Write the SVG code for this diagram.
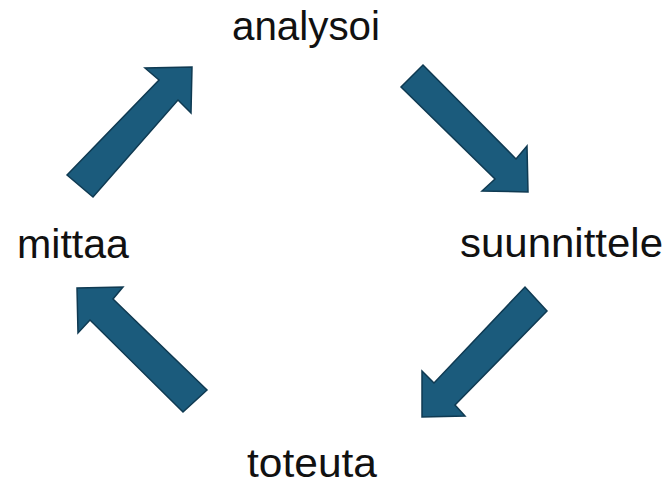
<svg xmlns="http://www.w3.org/2000/svg" width="670" height="486" viewBox="0 0 670 486">
<style>
.lbl{font-family:"Liberation Sans",Arial,sans-serif;font-size:40px;fill:#111}
.arr{fill:#1b5b7c;stroke:#0f3a52;stroke-width:1.5;stroke-linejoin:miter}
</style>
<rect width="670" height="486" fill="#fff"/>
<g id="analysoi"><text class="lbl" x="232" y="40" textLength="148" lengthAdjust="spacingAndGlyphs">analysoi</text></g>
<g id="suunnittele"><text class="lbl" x="460" y="257" textLength="203" lengthAdjust="spacingAndGlyphs">suunnittele</text></g>
<g id="toteuta"><text class="lbl" x="247" y="477" textLength="130" lengthAdjust="spacingAndGlyphs">toteuta</text></g>
<g id="mittaa"><text class="lbl" x="17" y="258" textLength="112" lengthAdjust="spacingAndGlyphs">mittaa</text></g>
<g id="connectors">
<polygon class="arr" points="67,175 159,80 145,68 192,67 191,113 178,100 93,197"/>
<polygon class="arr" points="423,65 516,159 527,146 528,192 482,191 495,179 401,87"/>
<polygon class="arr" points="547,311 455,405 465,416 422,417 422,371 434,383 525,287"/>
<polygon class="arr" points="183,412 90,320 78,333 77,288 123,287 113,299 207,390"/>
</g>
</svg>
